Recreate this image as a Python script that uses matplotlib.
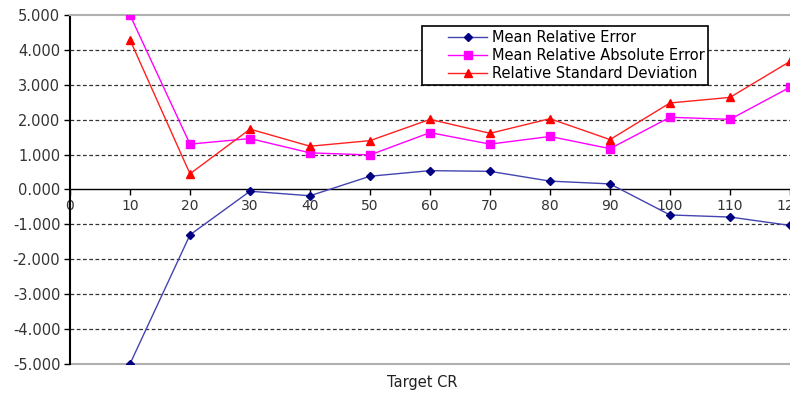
import matplotlib
matplotlib.use("Agg")
import matplotlib.pyplot as plt
from matplotlib.lines import Line2D
from matplotlib.legend_handler import HandlerLine2D
from matplotlib.ticker import FormatStrFormatter

# Target CR values and the three error measures
target_cr = [10, 20, 30, 40, 50, 60, 70, 80, 90, 100, 110, 120]
mean_rel_err = [-5.00, -1.30, -0.05, -0.18, 0.38, 0.54, 0.52, 0.24, 0.16, -0.73, -0.79, -1.03]
mean_rel_abs_err = [5.00, 1.30, 1.46, 1.05, 0.99, 1.63, 1.30, 1.52, 1.17, 2.07, 2.01, 2.93]
rel_std_dev = [4.29, 0.45, 1.73, 1.24, 1.40, 2.01, 1.61, 2.03, 1.43, 2.48, 2.64, 3.67]

x_ticks = list(range(0, 121, 10))
y_ticks = [-5, -4, -3, -2, -1, 0, 1, 2, 3, 4, 5]

plt.rcParams['font.family'] = 'DejaVu Sans'

fig = plt.figure(figsize=(7.9, 3.96), dpi=100)
ax = fig.add_axes([0.0886, 0.081, 0.9114, 0.881])

for y in [4, 3, 2, 1, -1, -2, -3, -4]:
    ax.axhline(y, color='#333333', lw=0.9, ls=(0, (3, 2)), zorder=1)

ax.plot(target_cr, mean_rel_err, color='#4444b0', lw=1.0, marker='D', ms=4,
        mfc='#000080', mec='#000080', label='Mean Relative Error', zorder=3)
ax.plot(target_cr, mean_rel_abs_err, color='#ff00ff', lw=1.0, marker='s', ms=5.5,
        mfc='#ff00ff', mec='#ff00ff', label='Mean Relative Absolute Error', zorder=3)
ax.plot(target_cr, rel_std_dev, color='#ff2020', lw=1.0, marker='^', ms=6,
        mfc='#ff0000', mec='#ff0000', label='Relative Standard Deviation', zorder=3)

ax.set_xlim(0, 120)
ax.set_ylim(-5, 5)
ax.set_xticks(x_ticks)
ax.set_yticks(y_ticks)
ax.yaxis.set_major_formatter(FormatStrFormatter('%.3f'))

ax.spines['bottom'].set_position(('data', 0))
ax.spines['bottom'].set_color('black')
ax.spines['bottom'].set_linewidth(1.0)
ax.spines['left'].set_color('black')
ax.spines['left'].set_linewidth(1.5)
ax.spines['right'].set_visible(False)
ax.spines['top'].set_color('#b0b0b0')
ax.spines['top'].set_linewidth(1.5)
ax.axhline(-5, color='#b0b0b0', lw=1.5, clip_on=False, zorder=0)

ax.tick_params(axis='x', direction='out', length=4, width=1, pad=3,
               labelsize=10, labelcolor='#333333')
ax.tick_params(axis='y', direction='out', length=4, width=1, pad=3,
               labelsize=10.5, labelcolor='#333333')

fig.text(0.534, 0.033, 'Target CR', ha='center', va='center', fontsize=10.5, color='#222222')

# legend handles indented from the frame edge
leg = ax.legend(loc='upper left', bbox_to_anchor=(0.489, 0.968), frameon=True, fancybox=False,
                edgecolor='black', fontsize=10.5, handlelength=4.2, borderpad=0.25,
                labelspacing=0.22, handletextpad=0.35, borderaxespad=0, framealpha=1,
                handler_map={Line2D: HandlerLine2D(xpad=1.55)})
leg.get_frame().set_linewidth(1.2)

fig.savefig('out.png', dpi=100)
